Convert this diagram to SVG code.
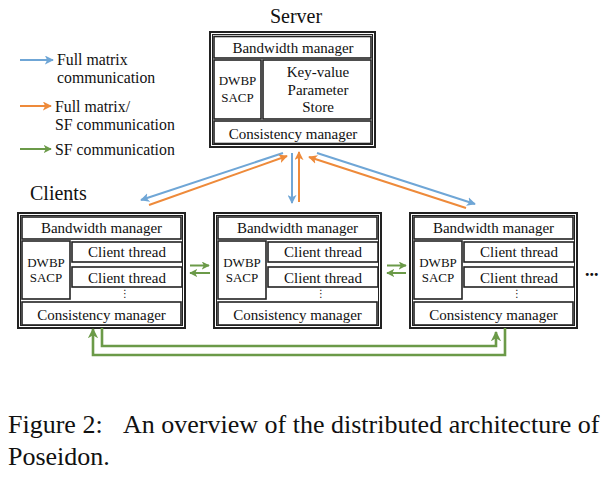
<svg xmlns="http://www.w3.org/2000/svg" width="612" height="481" viewBox="0 0 612 481">
<style>
  text { font-family: "Liberation Serif", "Times New Roman", serif; fill: #111; }
  .t15 { font-size: 15px; text-anchor: middle; }
  .t13 { font-size: 13px; text-anchor: middle; }
  .leg { font-size: 15.8px; }
  .title { font-size: 20px; }
  .cap { font-size: 26px; }
  .frame { fill: #fff; stroke: #222; stroke-width: 2; }
  .inner { fill: none; stroke: #222; stroke-width: 1; }
  .box { fill: #fff; stroke: #222; stroke-width: 1.6; }
  .blue { fill: none; stroke: #6fa6d6; stroke-width: 2; }
  .orange { fill: none; stroke: #ee8a3a; stroke-width: 2; }
  .green { fill: none; stroke: #6b9a48; stroke-width: 2; }
  .greenb { fill: none; stroke: #6b9a48; stroke-width: 2.6; }
</style>
<defs>
  <marker id="ab" viewBox="0 0 10 10" refX="9" refY="5" markerWidth="4.5" markerHeight="4.5" orient="auto" markerUnits="strokeWidth">
    <path d="M0,0 L10,5 L0,10 L2.5,5 z" fill="#6fa6d6"/>
  </marker>
  <marker id="ao" viewBox="0 0 10 10" refX="9" refY="5" markerWidth="4.5" markerHeight="4.5" orient="auto" markerUnits="strokeWidth">
    <path d="M0,0 L10,5 L0,10 L2.5,5 z" fill="#ee8a3a"/>
  </marker>
  <marker id="ag" viewBox="0 0 10 10" refX="9" refY="5" markerWidth="4" markerHeight="4" orient="auto" markerUnits="strokeWidth">
    <path d="M0,0 L10,5 L0,10 L2.5,5 z" fill="#6b9a48"/>
  </marker>
  <marker id="agb" viewBox="0 0 10 10" refX="9" refY="5" markerWidth="4" markerHeight="4" orient="auto" markerUnits="strokeWidth">
    <path d="M0,0 L10,5 L0,10 L3,5 z" fill="#6b9a48"/>
  </marker>
</defs>
<rect width="612" height="481" fill="#fff"/>

<g id="legend">
  <line class="blue" x1="20" y1="60" x2="53" y2="60" marker-end="url(#ab)"/>
  <text class="leg" x="57" y="65">Full matrix</text>
  <text class="leg" x="57" y="83">communication</text>
  <line class="orange" x1="20" y1="106" x2="51" y2="106" marker-end="url(#ao)"/>
  <text class="leg" x="55" y="112">Full matrix/</text>
  <text class="leg" x="55" y="130">SF communication</text>
  <line class="green" x1="20" y1="149" x2="51" y2="149" marker-end="url(#ag)"/>
  <text class="leg" x="55" y="155">SF communication</text>
</g>

<g id="server">
  <text class="title" x="296" y="23" text-anchor="middle">Server</text>
  <rect class="frame" x="210" y="32" width="165" height="115"/>
  <rect class="inner" x="212.5" y="34.5" width="160" height="110"/>
  <rect class="box" x="214" y="36.5" width="157" height="21.5"/>
  <text class="t15" x="293" y="53">Bandwidth manager</text>
  <rect class="box" x="214" y="60" width="47" height="59"/>
  <text class="t13" x="237.5" y="85">DWBP</text>
  <text class="t13" x="237.5" y="102">SACP</text>
  <rect class="box" x="263" y="60" width="108" height="59"/>
  <text class="t15" x="318" y="77">Key-value</text>
  <text class="t15" x="318" y="95">Parameter</text>
  <text class="t15" x="318" y="112">Store</text>
  <rect class="box" x="214" y="121" width="157" height="22.5"/>
  <text class="t15" x="293" y="139">Consistency manager</text>
</g>

<text class="title" x="30" y="200">Clients</text>

<g id="client1" transform="translate(18,213)">
  <rect class="frame" x="0" y="0" width="167" height="115"/>
  <rect class="inner" x="2.5" y="2.5" width="162" height="110"/>
  <rect class="box" x="4" y="4" width="159" height="22"/>
  <text class="t15" x="83.5" y="20">Bandwidth manager</text>
  <rect class="box" x="4" y="28" width="48" height="58"/>
  <text class="t13" x="28" y="54">DWBP</text>
  <text class="t13" x="28" y="69">SACP</text>
  <rect class="box" x="54" y="29" width="110" height="20"/>
  <text class="t15" x="109" y="44">Client thread</text>
  <rect class="box" x="54" y="54" width="110" height="20"/>
  <text class="t15" x="109" y="70">Client thread</text>
  <text x="107" y="84" font-family="DejaVu Sans, sans-serif" font-size="10" text-anchor="middle" style="font-family:'DejaVu Sans',sans-serif">⋮</text>
  <rect class="box" x="4" y="89" width="159" height="23"/>
  <text class="t15" x="83.5" y="107">Consistency manager</text>
</g>

<g id="client2" transform="translate(214,213)">
  <rect class="frame" x="0" y="0" width="167" height="115"/>
  <rect class="inner" x="2.5" y="2.5" width="162" height="110"/>
  <rect class="box" x="4" y="4" width="159" height="22"/>
  <text class="t15" x="83.5" y="20">Bandwidth manager</text>
  <rect class="box" x="4" y="28" width="48" height="58"/>
  <text class="t13" x="28" y="54">DWBP</text>
  <text class="t13" x="28" y="69">SACP</text>
  <rect class="box" x="54" y="29" width="110" height="20"/>
  <text class="t15" x="109" y="44">Client thread</text>
  <rect class="box" x="54" y="54" width="110" height="20"/>
  <text class="t15" x="109" y="70">Client thread</text>
  <text x="107" y="84" font-size="10" text-anchor="middle" style="font-family:'DejaVu Sans',sans-serif">⋮</text>
  <rect class="box" x="4" y="89" width="159" height="23"/>
  <text class="t15" x="83.5" y="107">Consistency manager</text>
</g>

<g id="client3" transform="translate(410,213)">
  <rect class="frame" x="0" y="0" width="167" height="115"/>
  <rect class="inner" x="2.5" y="2.5" width="162" height="110"/>
  <rect class="box" x="4" y="4" width="159" height="22"/>
  <text class="t15" x="83.5" y="20">Bandwidth manager</text>
  <rect class="box" x="4" y="28" width="48" height="58"/>
  <text class="t13" x="28" y="54">DWBP</text>
  <text class="t13" x="28" y="69">SACP</text>
  <rect class="box" x="54" y="29" width="110" height="20"/>
  <text class="t15" x="109" y="44">Client thread</text>
  <rect class="box" x="54" y="54" width="110" height="20"/>
  <text class="t15" x="109" y="70">Client thread</text>
  <text x="107" y="84" font-size="10" text-anchor="middle" style="font-family:'DejaVu Sans',sans-serif">⋮</text>
  <rect class="box" x="4" y="89" width="159" height="23"/>
  <text class="t15" x="83.5" y="107">Consistency manager</text>
</g>

<text x="585" y="276" font-size="18" font-weight="bold">...</text>

<g id="connectors">
  <line class="blue" x1="283" y1="153" x2="141" y2="200" marker-end="url(#ab)"/>
  <line class="orange" x1="149" y1="205" x2="287" y2="156" marker-end="url(#ao)"/>
  <line class="blue" x1="292" y1="153" x2="292" y2="203" marker-end="url(#ab)"/>
  <line class="orange" x1="299" y1="202" x2="299" y2="152" marker-end="url(#ao)"/>
  <line class="orange" x1="466" y1="208" x2="309" y2="157" marker-end="url(#ao)"/>
  <line class="blue" x1="317" y1="153" x2="475" y2="204" marker-end="url(#ab)"/>
  <line class="green" x1="190" y1="265.5" x2="209" y2="265.5" marker-end="url(#ag)"/>
  <line class="green" x1="210" y1="273" x2="190" y2="273" marker-end="url(#ag)"/>
  <line class="green" x1="387" y1="265.5" x2="406" y2="265.5" marker-end="url(#ag)"/>
  <line class="green" x1="406" y1="273" x2="387" y2="273" marker-end="url(#ag)"/>
  <path class="greenb" d="M102,328 V346 H496 V332" marker-end="url(#agb)"/>
  <path class="greenb" d="M505,328 V355 H93 V329" marker-end="url(#agb)"/>
</g>

<g id="caption">
  <text class="cap" x="8" y="433">Figure 2:</text>
  <text class="cap" x="123" y="433">An overview of the distributed architecture of</text>
  <text class="cap" x="8" y="465">Poseidon.</text>
</g>
</svg>
